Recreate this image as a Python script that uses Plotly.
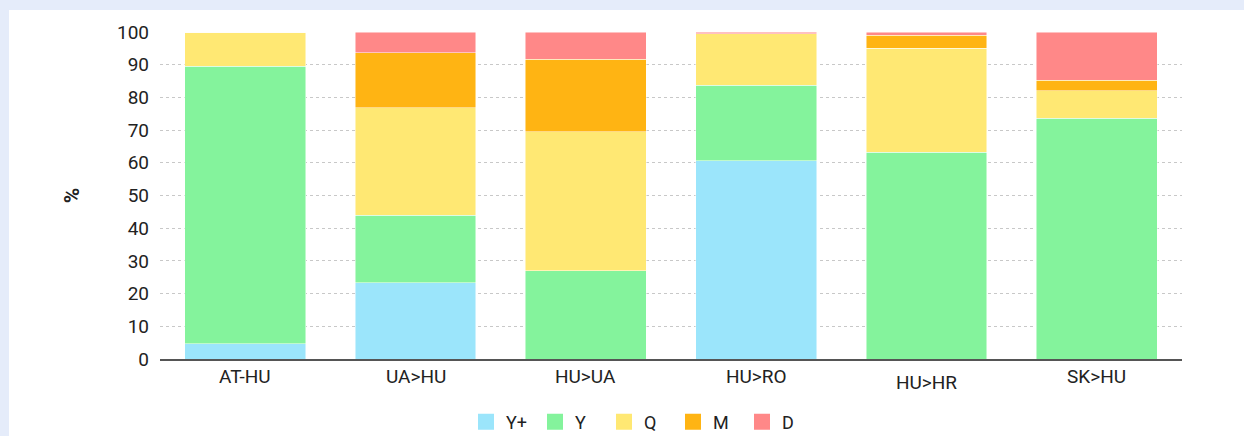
import plotly.graph_objects as go

categories = ["AT-HU", "UA>HU", "HU>UA", "HU>RO", "HU>HR", "SK>HU"]
series_names = ["Y+", "Y", "Q", "M", "D"]
y_plus = [4.6, 23.3, 0.0, 60.6, 0.0, 0.0]
y_vals = [85.0, 20.7, 27.0, 23.1, 63.3, 73.7]
q_vals = [10.4, 32.8, 42.5, 15.8, 31.8, 8.3]
m_vals = [0.0, 16.8, 22.2, 0.0, 3.9, 3.2]
d_vals = [0.0, 6.4, 8.3, 0.5, 1.0, 14.8]
y_ticks = [0, 10, 20, 30, 40, 50, 60, 70, 80, 90, 100]

colors = ["#9be5fb", "#84f39c", "#ffe873", "#ffb413", "#ff8888"]
series = [y_plus, y_vals, q_vals, m_vals, d_vals]

FONT = "Liberation Sans Narrow, Arial Narrow, Roboto, Arial, sans-serif"

fig = go.Figure()
for name, vals, col in zip(series_names, series, colors):
    fig.add_trace(go.Bar(
        x=categories, y=vals, name=name, showlegend=False,
        marker=dict(color=col, line=dict(color="rgba(255,255,255,0.6)", width=0.8)),
        hoverinfo="x+y+name",
    ))
    fig.add_trace(go.Scatter(
        x=[None], y=[None], mode="markers", name=name,
        marker=dict(symbol="square", size=16, color=col),
    ))

# white panel
fig.add_shape(type="rect", xref="paper", yref="paper",
              x0=(9 - 160) / 1022, x1=(1260 - 160) / 1022,
              y0=(359 - 450) / 327, y1=(359 - 10) / 327,
              fillcolor="white", line=dict(width=0), layer="below")

# category labels (HU>HR sits slightly lower in the reference)
for c in categories:
    fig.add_annotation(x=c, y=0, xref="x", yref="y", text=c, showarrow=False,
                       yanchor="top", yshift=-4 if c != "HU>HR" else -10,
                       font=dict(family=FONT, size=19, color="#222"))

fig.update_layout(
    width=1244, height=436,
    barmode="stack", bargap=0.29,
    paper_bgcolor="#e5ecfa", plot_bgcolor="white",
    margin=dict(l=160, r=62, t=32, b=77, autoexpand=False),
    font=dict(family=FONT, size=19, color="#222"),
    showlegend=True,
    legend=dict(orientation="h", x=(466 - 160) / 1022, xanchor="left",
                y=(359 - 422) / 327, yanchor="middle", traceorder="normal",
                entrywidth=24, font=dict(family=FONT, size=18, color="#222"),
                bgcolor="rgba(0,0,0,0)"),
    xaxis=dict(showticklabels=False, showgrid=False, showline=True,
               linecolor="#555", linewidth=1.5, ticks="", zeroline=False,
               automargin=False),
    yaxis=dict(range=[0, 100], tickvals=y_ticks, showgrid=True,
               gridcolor="#c8c8c8", griddash="dot", gridwidth=1,
               zeroline=False, showline=False, ticks="", automargin=False,
               ticklabelstandoff=10,
               tickfont=dict(family=FONT, size=19, color="#222"),
               title=dict(text="<b>%</b>", standoff=31,
                          font=dict(family=FONT, size=21, color="#222"))),
)

fig.write_html("out.html", config={"displayModeBar": False},
               post_script="document.body.style.margin='0';document.body.style.overflow='hidden';")
